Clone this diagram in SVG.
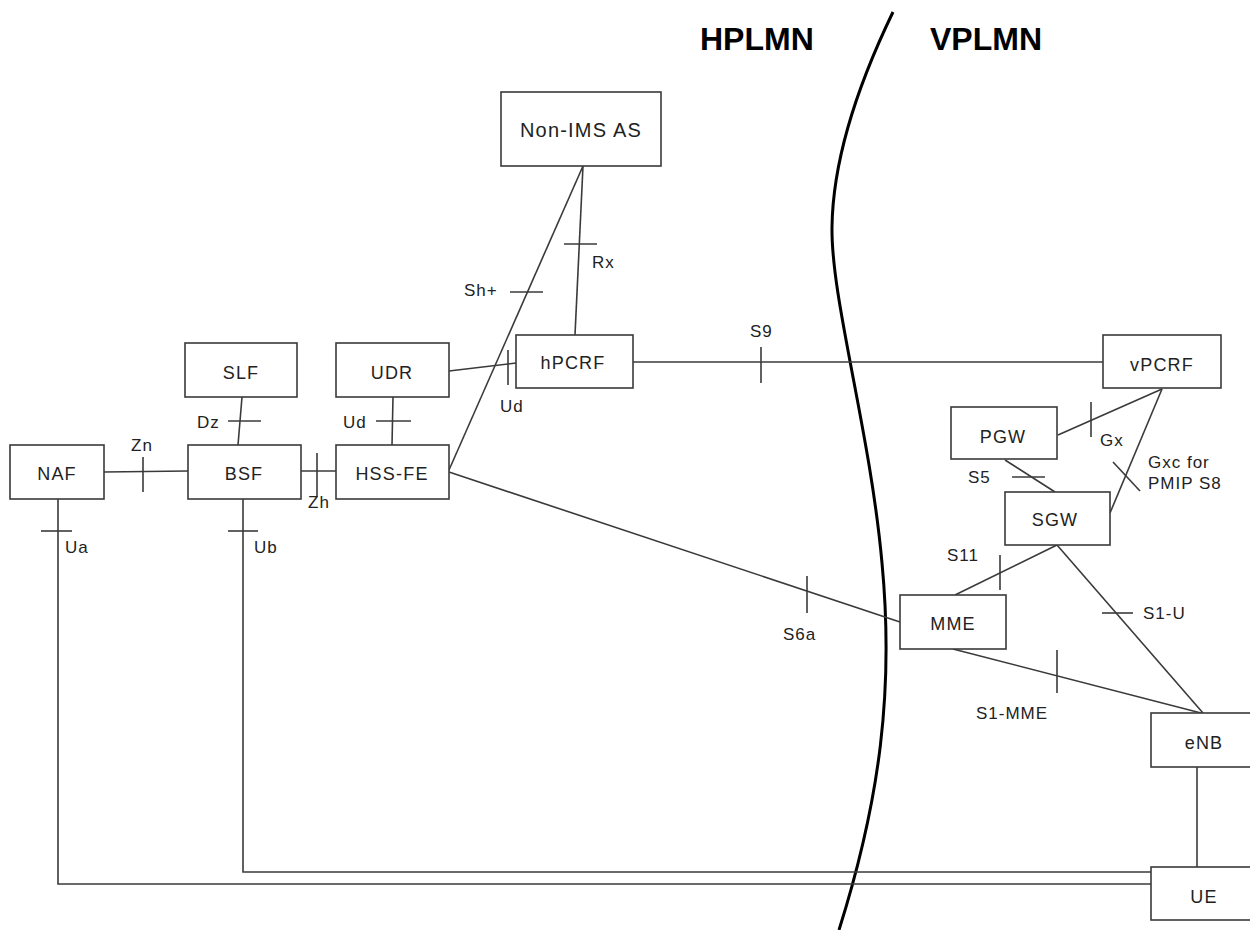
<svg xmlns="http://www.w3.org/2000/svg" width="1250" height="930" viewBox="0 0 1250 930">
<style>
  .box { fill: #ffffff; stroke: #3a3a3a; stroke-width: 1.6; }
  .nt { font-family: "Liberation Sans", Arial, sans-serif; font-size: 18px; letter-spacing: 1.2px; fill: #222; text-anchor: middle; }
  .ln { fill: none; stroke: #3a3a3a; stroke-width: 1.6; }
  .tk { fill: none; stroke: #3a3a3a; stroke-width: 1.6; }
  .lb { font-family: "Liberation Sans", Arial, sans-serif; font-size: 17px; letter-spacing: 1px; fill: #222; }
  .dom { font-family: "Liberation Sans", Arial, sans-serif; font-size: 32px; font-weight: bold; fill: #000; }
  .border { fill: none; stroke: #000; stroke-width: 3; }
</style>
<rect width="1250" height="930" fill="#ffffff"/>

<g id="domains">
  <text class="dom" x="700" y="50">HPLMN</text>
  <text class="dom" x="930" y="50">VPLMN</text>
  <path class="border" d="M 893 12 C 865 70, 833 150, 832 227 C 831 300, 870 430, 882 563 C 894 690, 880 800, 839 930"/>
</g>

<g id="connectors">
  <!-- NAF - BSF (Zn) -->
  <line class="ln" x1="104" y1="472" x2="188" y2="471"/>
  <line class="tk" x1="143" y1="457" x2="143" y2="492"/>
  <text class="lb" x="131" y="451">Zn</text>
  <!-- BSF - HSS-FE (Zh) -->
  <line class="ln" x1="301" y1="471" x2="336" y2="471"/>
  <line class="tk" x1="317" y1="453" x2="317" y2="497"/>
  <text class="lb" x="308" y="508">Zh</text>
  <!-- SLF - BSF (Dz) -->
  <line class="ln" x1="242" y1="397" x2="238" y2="445"/>
  <line class="tk" x1="228" y1="421" x2="261" y2="421"/>
  <text class="lb" x="197" y="428">Dz</text>
  <!-- UDR - HSS-FE (Ud) -->
  <line class="ln" x1="393" y1="397" x2="392" y2="445"/>
  <line class="tk" x1="376" y1="421" x2="411" y2="421"/>
  <text class="lb" x="343" y="428">Ud</text>
  <!-- UDR - hPCRF (Ud) -->
  <line class="ln" x1="449" y1="371" x2="516" y2="363"/>
  <line class="tk" x1="508" y1="350" x2="508" y2="385"/>
  <text class="lb" x="500" y="412">Ud</text>
  <!-- HSS-FE - Non-IMS AS (Sh+) -->
  <line class="ln" x1="449" y1="470" x2="583" y2="166"/>
  <line class="tk" x1="510" y1="292" x2="543" y2="292"/>
  <text class="lb" x="464" y="296">Sh+</text>
  <!-- hPCRF - Non-IMS AS (Rx) -->
  <line class="ln" x1="575" y1="335" x2="583" y2="166"/>
  <line class="tk" x1="564" y1="244" x2="597" y2="244"/>
  <text class="lb" x="592" y="268">Rx</text>
  <!-- hPCRF - vPCRF (S9) -->
  <line class="ln" x1="633" y1="362" x2="1103" y2="362"/>
  <line class="tk" x1="761" y1="347" x2="761" y2="383"/>
  <text class="lb" x="750" y="337">S9</text>
  <!-- HSS-FE - MME (S6a) -->
  <line class="ln" x1="449" y1="472" x2="900" y2="622"/>
  <line class="tk" x1="807" y1="576" x2="807" y2="613"/>
  <text class="lb" x="783" y="640">S6a</text>
  <!-- PGW - vPCRF (Gx) -->
  <line class="ln" x1="1058" y1="435" x2="1162" y2="389"/>
  <line class="tk" x1="1091" y1="402" x2="1091" y2="437"/>
  <text class="lb" x="1100" y="446">Gx</text>
  <!-- SGW - vPCRF (Gxc) -->
  <line class="ln" x1="1110" y1="513" x2="1162" y2="389"/>
  <line class="tk" x1="1113" y1="462" x2="1140" y2="491"/>
  <text class="lb" x="1148" y="468">Gxc for</text>
  <text class="lb" x="1148" y="489">PMIP S8</text>
  <!-- PGW - SGW (S5) -->
  <line class="ln" x1="1005" y1="460" x2="1055" y2="492"/>
  <line class="tk" x1="1012" y1="477" x2="1045" y2="477"/>
  <text class="lb" x="968" y="483">S5</text>
  <!-- SGW - MME (S11) -->
  <line class="ln" x1="955" y1="595" x2="1057" y2="545"/>
  <line class="tk" x1="1000" y1="555" x2="1000" y2="590"/>
  <text class="lb" x="947" y="561">S11</text>
  <!-- SGW - eNB (S1-U) -->
  <line class="ln" x1="1057" y1="545" x2="1203" y2="713"/>
  <line class="tk" x1="1102" y1="613" x2="1133" y2="613"/>
  <text class="lb" x="1143" y="619">S1-U</text>
  <!-- MME - eNB (S1-MME) -->
  <line class="ln" x1="953" y1="649" x2="1201" y2="713"/>
  <line class="tk" x1="1057" y1="650" x2="1057" y2="693"/>
  <text class="lb" x="976" y="719">S1-MME</text>
  <!-- eNB - UE -->
  <line class="ln" x1="1197" y1="767" x2="1197" y2="867"/>
  <!-- BSF - UE (Ub) -->
  <polyline class="ln" points="243,499 243,872 1151,872"/>
  <line class="tk" x1="228" y1="531" x2="258" y2="531"/>
  <text class="lb" x="254" y="553">Ub</text>
  <!-- NAF - UE (Ua) -->
  <polyline class="ln" points="58,499 58,884 1151,884"/>
  <line class="tk" x1="41" y1="531" x2="72" y2="531"/>
  <text class="lb" x="65" y="553">Ua</text>
</g>

<g id="node-nonims">
  <rect class="box" x="501" y="92" width="160" height="74"/>
  <text class="nt" x="581" y="137" style="font-size:20px">Non-IMS AS</text>
</g>
<g id="node-slf">
  <rect class="box" x="185" y="343" width="112" height="54"/>
  <text class="nt" x="241" y="379">SLF</text>
</g>
<g id="node-udr">
  <rect class="box" x="336" y="343" width="113" height="54"/>
  <text class="nt" x="392" y="379">UDR</text>
</g>
<g id="node-naf">
  <rect class="box" x="10" y="445" width="94" height="54"/>
  <text class="nt" x="57" y="480">NAF</text>
</g>
<g id="node-bsf">
  <rect class="box" x="188" y="445" width="113" height="54"/>
  <text class="nt" x="244" y="480">BSF</text>
</g>
<g id="node-hssfe">
  <rect class="box" x="336" y="445" width="113" height="54"/>
  <text class="nt" x="392" y="480">HSS-FE</text>
</g>
<g id="node-hpcrf">
  <rect class="box" x="516" y="335" width="117" height="53"/>
  <text class="nt" x="573" y="369">hPCRF</text>
</g>
<g id="node-vpcrf">
  <rect class="box" x="1103" y="335" width="118" height="53"/>
  <text class="nt" x="1162" y="371">vPCRF</text>
</g>
<g id="node-pgw">
  <rect class="box" x="951" y="407" width="106" height="52"/>
  <text class="nt" x="1003" y="443">PGW</text>
</g>
<g id="node-sgw">
  <rect class="box" x="1005" y="492" width="105" height="53"/>
  <text class="nt" x="1055" y="526">SGW</text>
</g>
<g id="node-mme">
  <rect class="box" x="900" y="595" width="106" height="54"/>
  <text class="nt" x="953" y="630">MME</text>
</g>
<g id="node-enb">
  <rect class="box" x="1151" y="713" width="110" height="54"/>
  <text class="nt" x="1204" y="749">eNB</text>
</g>
<g id="node-ue">
  <rect class="box" x="1151" y="867" width="110" height="53"/>
  <text class="nt" x="1204" y="903">UE</text>
</g>
</svg>
